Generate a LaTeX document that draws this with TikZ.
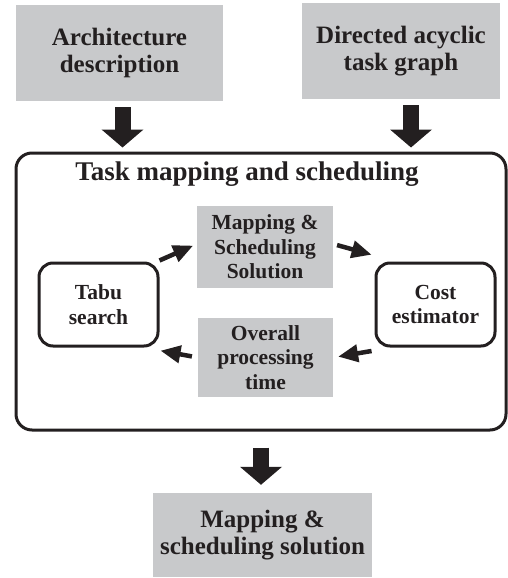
\documentclass[tikz,border=0pt]{standalone}
\usepackage{fontspec}
\setmainfont{Liberation Serif}
\usetikzlibrary{arrows.meta}
\definecolor{boxgray}{RGB}{200,201,203}
\definecolor{ink}{RGB}{35,31,32}

\begin{document}
\begin{tikzpicture}[x=1pt,y=-1pt,font=\bfseries\fontsize{25}{27}\selectfont,
    every node/.style={text=ink,align=center,inner sep=0pt},
    graybox/.style={fill=boxgray},
    roundbox/.style={draw=ink,line width=3pt,rounded corners=14pt},
    small/.style={font=\bfseries\fontsize{21.5}{24.5}\selectfont},
    fat/.style={draw=ink,line width=16pt,-{Triangle[width=41pt,length=18pt]}},
    thinarrow/.style={draw=ink,line width=4.5pt,-{Triangle[width=17pt,length=20pt]}}]
    \useasboundingbox (0,0) rectangle (508,578);

    % inputs
    \node[graybox,minimum width=207pt,minimum height=96pt] (arch) at (119.5,53) {Architecture\\description};
    \node[graybox,minimum width=198pt,minimum height=96pt] (dag) at (401,51) {Directed acyclic\\task graph};

    % task mapping and scheduling
    \node[roundbox,rounded corners=16pt,minimum width=490pt,minimum height=277pt] (tms) at (261,291.5) {};
    \node[font=\bfseries\fontsize{27}{30}\selectfont] (title) at (247,174) {Task mapping and scheduling};

    \node[roundbox,small,minimum width=119pt,minimum height=83pt] (tabu) at (98.5,304.5) {Tabu\\search};
    \node[roundbox,small,minimum width=119pt,minimum height=83pt] (cost) at (435.5,304.5) {Cost\\estimator};
    \node[graybox,small,minimum width=136pt,minimum height=82pt] (map) at (265,247) {Mapping \&\\Scheduling\\Solution};
    \node[graybox,small,minimum width=135pt,minimum height=79pt] (over) at (265.5,357.5) {Overall\\processing\\time};

    % output
    \node[graybox,minimum width=219pt,minimum height=84pt] (out) at (262.5,535) {Mapping \&\\scheduling solution};

    \draw[fat,shorten <=6pt,shorten >=4pt] ([xshift=3pt]arch.south) -- ([xshift=3pt]arch.south |- tms.north);
    \draw[fat,shorten <=6pt,shorten >=4pt] ([xshift=10pt]dag.south) -- ([xshift=10pt]dag.south |- tms.north);
    \draw[fat,shorten <=16pt,shorten >=8pt] (tms.south) -- (tms.south |- out.north);

    \draw[thinarrow,shorten >=4pt] ([yshift=1pt]tabu.north east) -- ([yshift=3pt]map.west);
    \draw[thinarrow,shorten <=4pt,shorten >=3pt] ([yshift=3pt]map.east) -- ([yshift=6pt]cost.north west);
    \draw[thinarrow,shorten <=3pt,shorten >=5pt] ([yshift=-3pt]cost.south west) -- (over.east);
    \draw[thinarrow,shorten <=6pt,shorten >=1pt] (over.west) -- ([yshift=-3pt]tabu.south east);
\end{tikzpicture}
\end{document}
